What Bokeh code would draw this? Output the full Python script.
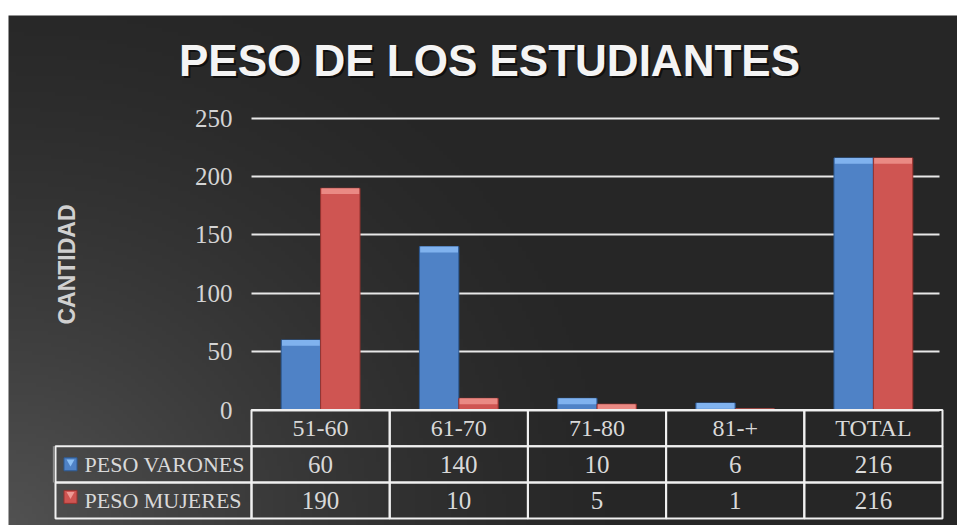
import numpy as np
from bokeh.plotting import figure
from bokeh.models import Range1d, LinearAxis, FixedTicker, Label, Grid, ColumnDataSource
from bokeh.core.properties import value
from bokeh.transform import dodge
from bokeh.embed import file_html
from bokeh.resources import INLINE

# ---------------- data ----------------
categories = ["51-60", "61-70", "71-80", "81-+", "TOTAL"]
varones = [60, 140, 10, 6, 216]
mujeres = [190, 10, 5, 1, 216]
series_names = ["PESO VARONES", "PESO MUJERES"]
y_ticks = [0, 50, 100, 150, 200, 250]
title_text = "PESO DE LOS ESTUDIANTES"
y_label = "CANTIDAD"

# ---------------- layout (figure pixels) ----------------
W, H = 957, 525
X0_PX = 251            # x pixel of category axis start
CAT_PX = 138.2         # pixels per category
Y0_PX = 409.5          # y pixel (from top) of value 0
Y_PX = 1.167           # pixels per unit
ROW_PX = 36.2          # table row height
DARK_TOP = 15          # top of dark panel
DARK_LEFT = 8          # left of dark panel

x_start = -X0_PX / CAT_PX
x_end = (W - X0_PX) / CAT_PX
y_end = Y0_PX / Y_PX
y_start = -(H - Y0_PX) / Y_PX
t_bottom = (H - Y0_PX) / ROW_PX
t_top = -Y0_PX / ROW_PX

p = figure(width=W, height=H, x_range=Range1d(x_start, x_end),
           y_range=Range1d(y_start, y_end),
           x_axis_type=None, y_axis_type=None,
           output_backend="svg", toolbar_location=None,
           min_border=0, background_fill_color="white",
           border_fill_color="white", outline_line_color=None)
p.extra_y_ranges = {"tbl": Range1d(t_bottom, t_top)}

# ---------------- background gradient ----------------
ny, nx = 128, 240
dark_h = H - DARK_TOP
dark_w = W - DARK_LEFT
yy, xx = np.mgrid[0:ny, 0:nx]
px = (xx + 0.5) / nx * dark_w
py = (yy + 0.5) / ny * dark_h
d = np.sqrt(px ** 2 + (py * 1.1) ** 2)
t = np.clip(1 - d / 650.0, 0, 1) ** 1.5
g = (38 + 44 * t).astype(np.uint8)
img = np.empty((ny, nx), dtype=np.uint32)
view = img.view(dtype=np.uint8).reshape((ny, nx, 4))
view[:, :, 0] = g
view[:, :, 1] = g
view[:, :, 2] = g
view[:, :, 3] = 255
bg_x0 = (DARK_LEFT - X0_PX) / CAT_PX
bg_y1 = (Y0_PX - DARK_TOP) / Y_PX
bg = p.image_rgba(image=[img], x=bg_x0, y=y_start, dw=x_end - bg_x0,
                  dh=bg_y1 - y_start)
bg.level = "image"

# ---------------- axis & grid ----------------
yaxis = LinearAxis(ticker=FixedTicker(ticks=y_ticks), fixed_location=0,
                   bounds=(0, 250), axis_label=y_label)
yaxis.axis_line_color = None
yaxis.major_tick_line_color = None
yaxis.minor_tick_line_color = None
yaxis.major_tick_out = 0
yaxis.major_tick_in = 0
yaxis.major_label_standoff = 19
yaxis.major_label_text_font = "Liberation Serif"
yaxis.major_label_text_font_size = "25px"
yaxis.major_label_text_color = "#d4d4d4"
yaxis.axis_label_text_font = "Liberation Sans"
yaxis.axis_label_text_font_style = "bold"
yaxis.axis_label_text_font_size = "23px"
yaxis.axis_label_text_color = "#d0d0d0"
yaxis.axis_label_standoff = 112
p.add_layout(yaxis, "left")

grid = Grid(dimension=1, ticker=yaxis.ticker, cross_bounds=(0, 4.98))
grid.grid_line_color = "#e8e8e8"
grid.grid_line_width = 2
p.add_layout(grid)

# ---------------- bars ----------------
xc = [i + 0.5 for i in range(len(categories))]
bw = 0.285
src = ColumnDataSource(dict(
    xc=xc, cat=categories,
    varones=varones, mujeres=mujeres,
    v_hi=list(np.maximum(np.array(varones) - 5, 0)),
    m_hi=list(np.maximum(np.array(mujeres) - 5, 0)),
    v_txt=[str(v) for v in varones], m_txt=[str(v) for v in mujeres],
))

p.vbar(x=dodge("xc", -bw / 2, range=p.x_range), top="varones", bottom=0, width=bw,
       source=src, fill_color="#4f82c6", line_color="#2d5a94", line_width=1)
p.vbar(x=dodge("xc", -bw / 2, range=p.x_range), top="varones", bottom="v_hi",
       width=bw * 0.96, source=src, fill_color="#80b2ee", line_color=None)
p.vbar(x=dodge("xc", bw / 2, range=p.x_range), top="mujeres", bottom=0, width=bw,
       source=src, fill_color="#cf5552", line_color="#96332f", line_width=1)
p.vbar(x=dodge("xc", bw / 2, range=p.x_range), top="mujeres", bottom="m_hi",
       width=bw * 0.96, source=src, fill_color="#ea8a84", line_color=None)

# ---------------- data table ----------------
LEG_L = (55 - X0_PX) / CAT_PX
n = len(categories)
cells_l, cells_r, cells_t, cells_b = [], [], [], []
for row in range(3):
    for i in range(n):
        cells_l.append(i); cells_r.append(i + 1)
        cells_t.append(row); cells_b.append(row + 1)
    if row > 0:
        cells_l.append(LEG_L); cells_r.append(0)
        cells_t.append(row); cells_b.append(row + 1)
p.quad(left=cells_l, right=cells_r, top=cells_t, bottom=cells_b,
       y_range_name="tbl", fill_color=None, line_color="#f0f0f0", line_width=2)
# faint left edge of the first legend cell
p.segment(x0=[LEG_L - 0.012], x1=[LEG_L - 0.012], y0=[1], y1=[2],
          y_range_name="tbl", line_color="#8a8a8a", line_width=2)

txt_color = "#d9d9d9"
p.text(x="xc", y=0.5, text="cat", source=src, y_range_name="tbl",
       text_font=value("Liberation Serif"), text_font_size="24px",
       text_color=txt_color, text_align="center", text_baseline="middle")
p.text(x="xc", y=1.5, text="v_txt", source=src, y_range_name="tbl",
       text_font=value("Liberation Serif"), text_font_size="25px",
       text_color=txt_color, text_align="center", text_baseline="middle")
p.text(x="xc", y=2.5, text="m_txt", source=src, y_range_name="tbl",
       text_font=value("Liberation Serif"), text_font_size="25px",
       text_color=txt_color, text_align="center", text_baseline="middle")

leg_x_icon = (70 - X0_PX) / CAT_PX
leg_x_text = (84 - X0_PX) / CAT_PX
p.scatter(x=[leg_x_icon, leg_x_icon], y=[1.5, 2.4], marker="square", size=13,
          fill_color=["#4f82c6", "#cf5552"], line_color=["#2d5a94", "#96332f"],
          y_range_name="tbl")
p.scatter(x=[leg_x_icon, leg_x_icon], y=[1.43, 2.33], marker="inverted_triangle",
          size=8, fill_color=["#8cc0f5", "#ee9a94"], line_color=None,
          y_range_name="tbl")
p.text(x=[leg_x_text, leg_x_text], y=[1.5, 2.5], text=series_names,
       y_range_name="tbl", text_font=value("Liberation Serif"),
       text_font_size="22px", text_color=txt_color, text_align="left",
       text_baseline="middle")

# ---------------- title ----------------
title_y = H - 60
shadow = Label(x=489 + 2, y=title_y - 2, x_units="screen", y_units="screen",
               text=title_text, text_font="Liberation Sans", text_font_style="bold",
               text_font_size="44px", text_color="#000000", text_alpha=0.6,
               text_align="center", text_baseline="middle")
title = Label(x=489, y=title_y, x_units="screen", y_units="screen",
              text=title_text, text_font="Liberation Sans", text_font_style="bold",
              text_font_size="44px", text_color="#f4f4f4",
              text_align="center", text_baseline="middle")
p.add_layout(shadow)
p.add_layout(title)

open("out.html", "w").write(file_html(p, INLINE))
